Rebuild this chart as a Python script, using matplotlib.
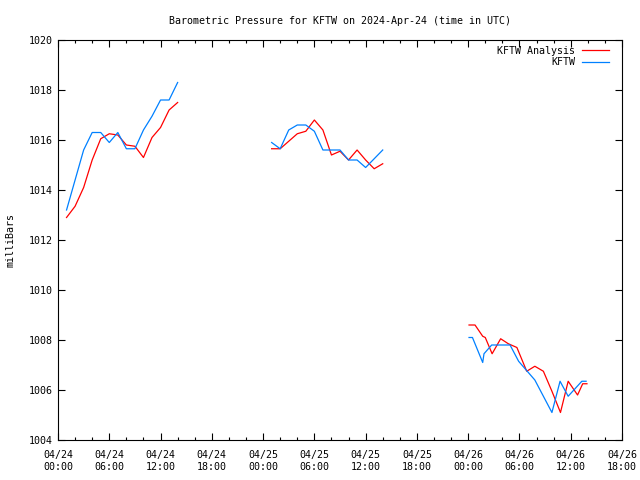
import numpy as np
import pandas as pd
import matplotlib
matplotlib.use('Agg')
import matplotlib.pyplot as plt
import matplotlib.dates as mdates

plt.rcParams['font.family'] = ['DejaVu Sans Mono']
plt.rcParams['font.size'] = 7

# hours after 2024-04-24 00:00 UTC, nan = gap
kftw_hours = [1, 2, 3, 4, 5, 6, 7, 8, 9, 10, 11, 12, 13, 14, np.nan,
              25, 26, 27, 28, 29, 30, 31, 32, 33, 34, 35, 36, 37, 38, np.nan,
              48.1, 48.5, 49.7, 49.85, 50.75, 52.9, 53.9, 55.8, 57.8, 58.75, 59.7, 61.3, 61.8]
kftw_mb = [1013.2, 1014.4, 1015.6, 1016.3, 1016.3, 1015.9, 1016.3, 1015.65, 1015.65, 1016.4,
           1016.95, 1017.6, 1017.6, 1018.3, np.nan,
           1015.9, 1015.65, 1016.4, 1016.6, 1016.6, 1016.35, 1015.6, 1015.6, 1015.6, 1015.2,
           1015.2, 1014.9, 1015.25, 1015.6, np.nan,
           1008.1, 1008.1, 1007.1, 1007.45, 1007.8, 1007.8, 1007.15, 1006.4, 1005.1, 1006.35,
           1005.75, 1006.35, 1006.35]

anal_hours = [1, 2, 3, 4, 5, 6, 7, 8, 9, 10, 11, 12, 13, 14, np.nan,
              25, 26, 27, 28, 29, 30, 31, 32, 33, 34, 35, 36, 37, 38, np.nan,
              48.1, 48.8, 49.7, 50.0, 50.8, 51.8, 52.7, 53.7, 54.85, 55.8, 56.8, 57.8, 58.8,
              59.7, 60.8, 61.4, 61.9]
anal_mb = [1012.9, 1013.35, 1014.1, 1015.2, 1016.05, 1016.25, 1016.2, 1015.8, 1015.75, 1015.3,
           1016.1, 1016.5, 1017.2, 1017.5, np.nan,
           1015.65, 1015.65, 1015.95, 1016.25, 1016.35, 1016.8, 1016.4, 1015.4, 1015.55, 1015.2,
           1015.6, 1015.2, 1014.85, 1015.05, np.nan,
           1008.6, 1008.6, 1008.15, 1008.1, 1007.45, 1008.05, 1007.85, 1007.7, 1006.75, 1006.95,
           1006.75, 1005.95, 1005.1, 1006.35, 1005.8, 1006.25, 1006.25]

start = mdates.date2num(pd.Timestamp('2024-04-24 00:00').to_pydatetime())


def to_time(hours):
    return start + np.array(hours, dtype=float) / 24.0


fig = plt.figure(figsize=(6.4, 4.8), dpi=100)
ax = fig.add_axes([58 / 640, 40 / 480, 564 / 640, 400 / 480])
ax.xaxis_date()

ax.plot(to_time(anal_hours), anal_mb, color='#ff0000', lw=0.9, label='KFTW Analysis')
ax.plot(to_time(kftw_hours), kftw_mb, color='#0080ff', lw=0.9, label='KFTW')

ax.set_xlim(start, start + 66 / 24.0)
ax.set_ylim(1004, 1020)
ax.set_yticks(np.arange(1004, 1021, 2))
ax.xaxis.set_major_locator(mdates.HourLocator(byhour=[0, 6, 12, 18]))
ax.xaxis.set_minor_locator(mdates.HourLocator(interval=2))
ax.xaxis.set_major_formatter(mdates.DateFormatter('%m/%d\n%H:%M'))

ax.tick_params(which='both', direction='in', top=True, right=True, labelsize=7.2)
ax.tick_params(which='major', length=5, width=0.8)
ax.tick_params(which='minor', length=2.5, width=0.8)
ax.tick_params(axis='x', pad=7.5)
for s in ax.spines.values():
    s.set_linewidth(0.8)

ax.set_title('Barometric Pressure for KFTW on 2024-Apr-24 (time in UTC)', fontsize=7.2, pad=11.5)
ax.set_ylabel('milliBars', fontsize=7.2, labelpad=10)

ax.legend(loc='upper right', bbox_to_anchor=(1 - 7 / 564, 1), frameon=False, markerfirst=False,
          fontsize=7.2, handlelength=2.7, handletextpad=0.7, borderaxespad=0.2, labelspacing=0.15)

fig.savefig('out.png', dpi=100)
